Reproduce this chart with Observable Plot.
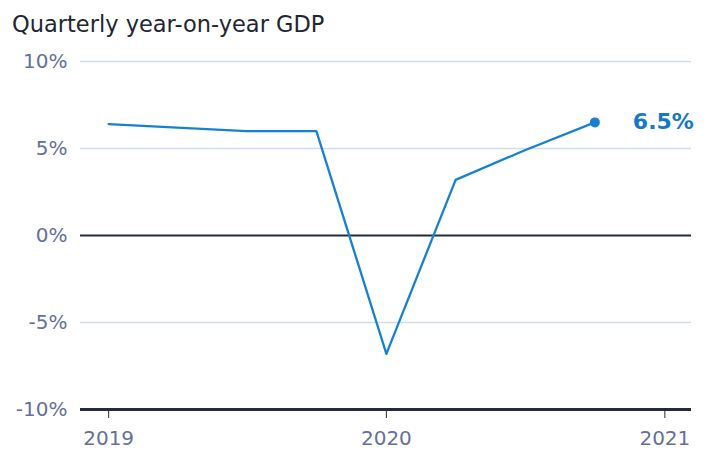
<!DOCTYPE html>
<html>
<head>
<meta charset="utf-8">
<script src="https://cdn.jsdelivr.net/npm/d3@7"></script>
<script src="https://cdn.jsdelivr.net/npm/@observablehq/plot@0.6"></script>
<style>
  html, body { margin: 0; padding: 0; background: #fff; }
  #title { font-family: "DejaVu Sans", sans-serif; font-size: 22.5px; color: #222532; height: 40px; line-height: 23px; padding: 13px 0 0 12px; box-sizing: border-box; white-space: nowrap; }
  svg { display: block; }
</style>
</head>
<body>
<div id="title">Quarterly year-on-year GDP</div>
<div id="chart"></div>
<script>
const quarters = ["2019-01-01", "2019-04-01", "2019-07-01", "2019-10-01", "2020-01-01", "2020-04-01", "2020-07-01", "2020-10-01"];
const gdpGrowth = [6.4, 6.2, 6.0, 6.0, -6.8, 3.2, 4.9, 6.5];
const xTicks = ["2019-01-01", "2020-01-01", "2021-01-01"];
const xDomain = ["2018-11-25", "2021-02-05"];
const yTicks = [-10, -5, 0, 5, 10];
const latestLabel = "6.5%";

const data = quarters.map((q, i) => ({date: new Date(q), value: gdpGrowth[i]}));
const last = data[data.length - 1];
const font = "DejaVu Sans, sans-serif";

const chart = Plot.plot({
  width: 711,
  height: 417,
  marginTop: 21,
  marginBottom: 48,
  marginLeft: 80,
  marginRight: 20,
  style: {fontFamily: font, fontSize: "20px", color: "#65709a", overflow: "visible"},
  x: {type: "utc", domain: xDomain.map(d => new Date(d)), label: null},
  y: {domain: [-10, 10], label: null},
  marks: [
    Plot.ruleY(yTicks.filter(d => d !== 0 && d !== -10), {stroke: "#cfdaf5", strokeWidth: 1.3}),
    Plot.ruleY([0], {stroke: "#232a3d", strokeWidth: 2}),
    Plot.axisX({ticks: xTicks.map(d => new Date(d)), tickFormat: d3.utcFormat("%Y"), tickSize: 9, tickPadding: 12, stroke: "#232a3d", fill: "#65709a", fontSize: 20}),
    Plot.axisY({ticks: yTicks, tickFormat: d => d + "%", tickSize: 0, tickPadding: 13, fill: "#65709a", fontSize: 20}),
    Plot.ruleY([-10], {stroke: "#232a3d", strokeWidth: 3}),
    Plot.line(data, {x: "date", y: "value", stroke: "#1781d1", strokeWidth: 2.3}),
    Plot.dot([last], {x: "date", y: "value", r: 5, fill: "#1781d1"}),
    Plot.text([last], {x: "date", y: "value", text: () => latestLabel, dx: 38, textAnchor: "start", fill: "#1579c6", fontWeight: "bold", fontSize: 22})
  ]
});
document.getElementById("chart").appendChild(chart);
</script>
</body>
</html>
